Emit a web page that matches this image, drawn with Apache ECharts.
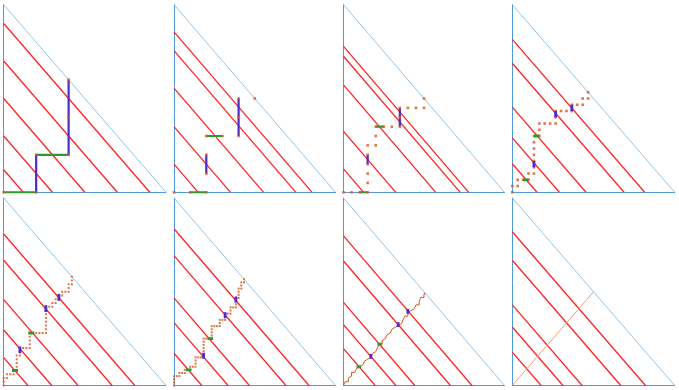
<!DOCTYPE html>
<html><head><meta charset="utf-8">
<script src="https://cdn.jsdelivr.net/npm/echarts@6/dist/echarts.min.js"></script>
<style>html,body{margin:0;padding:0;background:#fff}#c{width:679px;height:390px}</style>
</head><body><div id="c"></div>
<script>
// ---- data ----
// number of lattice steps per unit in each panel (panel 8 = limit, no steps)
const stepCounts = [5, 10, 20, 30, 50, 60, 100, 0];
// intercepts c of the red lines x + y = c, per panel
const red1 = [0.12, 0.3, 0.5, 0.7, 0.9];
const red2 = [0.15, 0.35, 0.555, 0.755, 0.855];
const red3 = [0.125, 0.325, 0.573, 0.725, 0.778];
const red4 = [0.152, 0.29, 0.454, 0.688, 0.815];
const red5 = [0.149, 0.296, 0.458, 0.668, 0.808];
const red6 = [0.172, 0.335, 0.467, 0.693, 0.836];
const red7 = [0.197, 0.325, 0.443, 0.664, 0.798];
const red8 = [0.178, 0.312, 0.43, 0.668, 0.82];
// lattice paths as runs of moves (R = right, U = up), in steps of 1/stepCount
const moves1 = "R1 U1 R1 U2";
const moves2 = "R2 U3 R2 U2 R1";
const moves3 = "R3 U5 R1 U2 R3 U2 R3 U1";
const moves4 = "U1 R1 U1 R2 U1 R1 U6 R1 U2 R3 U2 R3 U1 R2 U1 R1 U1";
const moves5 = "U2 R1 U1 R2 U1 R1 U4 R1 U2 R3 U4 R5 U7 R2 U1 R1 U1 R1 U1 R1 U1 R2 U2 R1 U2";
const moves6 = "U3 R2 U1 R2 U1 R2 U1 R2 U3 R3 U6 R3 U4 R3 U2 R2 U2 R2 U2 R2 U3 R1 U3 R1 U2 R1 U1";
const moves7 = "U1 R1 U1 R2 U2 R1 U1 R1 U2 R2 U1 R1 U2 R2 " +
               "U1 R2 U1 R1 U2 R2 U1 R2 U1 " +
               "R1 U2 R2 U1 R1 U2 R1 U1 R1 " +
               "R1 U2 R1 U1 R2 U2 R1 U1 R2 U2 R1 U1 R2 U1 R1 U1 " +
               "R2 U1 R1 U2 R1 U1 R2 U2 U1 " +
               "R2 U1 R2 U1 R1 U1 R2 U1 U2 R1 U1 R2 U2 R1";
// limit path in the last panel
const limitLine = [[0, 0], [0.5, 0.5]];

const redSets = [red1, red2, red3, red4, red5, red6, red7, red8];
const moveSets = [moves1, moves2, moves3, moves4, moves5, moves6, moves7, null];

// ---- layout ----
const colLeft = [3.7, 174, 343.5, 512.3];
const colWidth = [162.3, 161.5, 161, 162.4];
const rowTop = [4.7, 198];
const rowHeight = [187.6, 187.5];

const C = {
  axis: '#4f9ad8', hyp: '#86bde6', red: '#ff2424',
  green: '#2c9a2c', purple: '#4a2ccc', orange: '#d9541c', limit: '#f0a070'
};

function buildPath(moves) {
  let x = 0, y = 0;
  const pts = [[0, 0]];
  moves.trim().split(/\s+/).forEach(t => {
    const d = t[0], k = +t.slice(1);
    for (let i = 0; i < k; i++) { if (d === 'R') x++; else y++; pts.push([x, y]); }
  });
  return pts;
}

const grids = [], xAxes = [], yAxes = [], series = [];
for (let p = 0; p < 8; p++) {
  const r = Math.floor(p / 4), c = p % 4;
  grids.push({left: colLeft[c], top: rowTop[r], width: colWidth[c], height: rowHeight[r]});
  const ax = {
    gridIndex: p, type: 'value', min: 0, max: 1,
    axisLine: {show: true, lineStyle: {color: C.axis, width: 1}},
    axisTick: {show: false}, axisLabel: {show: false}, splitLine: {show: false}
  };
  xAxes.push(Object.assign({}, ax));
  yAxes.push(Object.assign({}, ax));
  const base = {xAxisIndex: p, yAxisIndex: p, type: 'line', symbol: 'none', silent: true, animation: false};
  // hypotenuse
  series.push(Object.assign({}, base, {data: [[0, 1], [1, 0]], lineStyle: {color: C.hyp, width: 0.9}, z: 1}));
  // red lines
  redSets[p].forEach(v => {
    series.push(Object.assign({}, base, {data: [[0, v], [v, 0]], lineStyle: {color: C.red, width: 1.3}, z: 2}));
  });
  if (moveSets[p]) {
    const n = stepCounts[p];
    const pts = buildPath(moveSets[p]);
    const cs = redSets[p].map(v => v * n);
    const crossZ = p >= 3 ? 6 : 3;
    for (let i = 0; i + 1 < pts.length; i++) {
      const s0 = pts[i][0] + pts[i][1];
      if (cs.some(v => v > s0 && v < s0 + 1)) {
        const horiz = pts[i + 1][0] !== pts[i][0];
        series.push(Object.assign({}, base, {
          data: [[pts[i][0] / n, pts[i][1] / n], [pts[i + 1][0] / n, pts[i + 1][1] / n]],
          lineStyle: {color: horiz ? C.green : C.purple, width: p >= 3 ? 2.8 : 2.2, cap: p >= 4 ? 'square' : 'butt'},
          z: crossZ
        }));
      }
    }
    const scaled = pts.map(q => [q[0] / n, q[1] / n]);
    if (p === 6) {
      series.push(Object.assign({}, base, {data: scaled, lineStyle: {color: C.orange, width: 1}, z: 2.5}));
    } else {
      series.push({
        type: 'scatter', xAxisIndex: p, yAxisIndex: p, silent: true, animation: false,
        data: scaled, symbol: 'rect', symbolSize: p >= 4 ? 2 : 2.6,
        itemStyle: {color: C.orange}, z: 4
      });
    }
  } else {
    series.push(Object.assign({}, base, {data: limitLine, lineStyle: {color: C.limit, width: 1}, z: 3}));
  }
}

const chart = echarts.init(document.getElementById('c'), null, {renderer: 'canvas'});
chart.setOption({animation: false, grid: grids, xAxis: xAxes, yAxis: yAxes, series: series});
</script>
</body></html>
